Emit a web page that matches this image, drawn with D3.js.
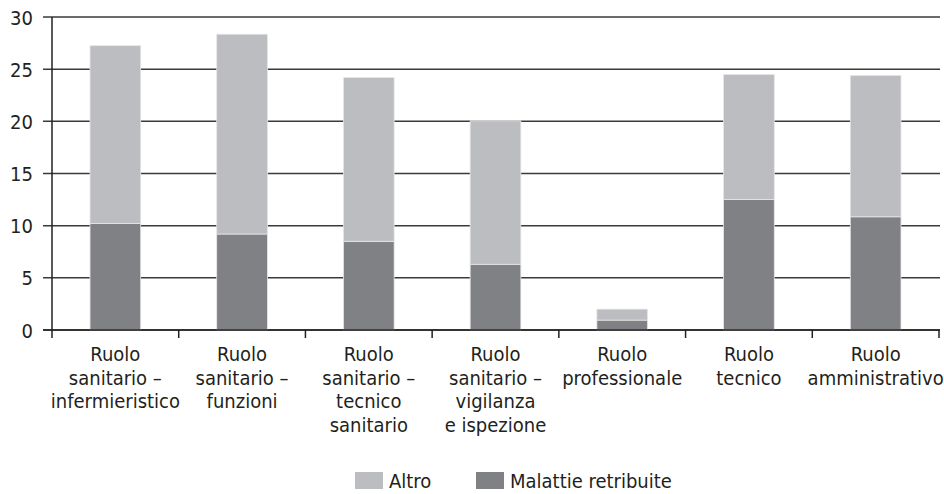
<!DOCTYPE html>
<html>
<head>
<meta charset="utf-8">
<script src="https://cdn.jsdelivr.net/npm/d3@7"></script>
<style>
  body { margin: 0; background: #fff; }
  text { font-family: "Liberation Sans Narrow", "DejaVu Sans Condensed", "Roboto Condensed", sans-serif; fill: #231f20; }
</style>
</head>
<body>
<div id="chart"></div>
<script>
'use strict'

// data
var categories = [
  ["Ruolo", "sanitario –", "infermieristico"],
  ["Ruolo", "sanitario –", "funzioni"],
  ["Ruolo", "sanitario –", "tecnico", "sanitario"],
  ["Ruolo", "sanitario –", "vigilanza", "e ispezione"],
  ["Ruolo", "professionale"],
  ["Ruolo", "tecnico"],
  ["Ruolo", "amministrativo"]
];
var malattie = [10.2, 9.2, 8.5, 6.3, 0.95, 12.5, 10.85];
var altro = [17.05, 19.15, 15.7, 13.75, 1.05, 12.0, 13.55];
var seriesNames = ["Malattie retribuite", "Altro"];
var yTicks = [0, 5, 10, 15, 20, 25, 30];

const margin = { top: 17, right: 5, bottom: 164, left: 52 };
const width = 944 - margin.left - margin.right;
const height = 494 - margin.top - margin.bottom;
const colors = { "Malattie retribuite": "#808184", "Altro": "#bcbdc0" };

var svg = d3.select('#chart').append('svg')
  .attr('width', 944)
  .attr('height', 494);

var g = svg.append('g')
  .attr('transform', 'translate(' + margin.left + ',' + margin.top + ')');

var rows = categories.map(function(c, i) {
  return { key: i, "Malattie retribuite": malattie[i], "Altro": altro[i] };
});
var stacked = d3.stack().keys(seriesNames)(rows);

var xScale = d3.scaleBand()
  .domain(d3.range(categories.length))
  .range([0, 887])
  .paddingInner(0.6)
  .paddingOuter(0.3);
var step = xScale.step();

var yScale = d3.scaleLinear()
  .domain([0, 30])
  .range([height, 0]);

// gridlines
g.append('g')
  .selectAll('line')
  .data(yTicks)
  .enter().append('line')
  .attr('x1', -9)
  .attr('x2', 888)
  .attr('y1', function(d) { return yScale(d); })
  .attr('y2', function(d) { return yScale(d); })
  .style('stroke', '#3a3a3a')
  .style('stroke-width', 1.5);

// y labels
var yAxis = d3.axisLeft(yScale).tickValues(yTicks).tickSize(0).tickPadding(19);
var yG = g.append('g').call(yAxis);
yG.select('.domain').remove();
yG.selectAll('text').style('font-size', '20px').attr('dy', '0.35em').style('fill', '#231f20');

// bars
g.append('g').selectAll('g')
  .data(stacked)
  .enter().append('g')
  .style('fill', function(d) { return colors[d.key]; })
  .selectAll('rect')
  .data(function(d) { return d; })
  .enter().append('rect')
  .attr('x', function(d, i) { return xScale(i); })
  .attr('width', xScale.bandwidth())
  .attr('y', function(d) { return yScale(d[1]); })
  .attr('height', function(d) { return yScale(d[0]) - yScale(d[1]); })
  .style('stroke', '#e6e6e7')
  .style('stroke-width', 0.8);

// y axis line
g.append('line')
  .attr('x1', 0).attr('x2', 0)
  .attr('y1', 0).attr('y2', height)
  .style('stroke', '#231f20')
  .style('stroke-width', 1.5);

// x axis with boundary ticks
g.append('line')
  .attr('x1', -9).attr('x2', 888)
  .attr('y1', height).attr('y2', height)
  .style('stroke', '#231f20')
  .style('stroke-width', 1.5);
g.append('g').selectAll('line')
  .data(d3.range(categories.length + 1))
  .enter().append('line')
  .attr('x1', function(d) { return d * step; })
  .attr('x2', function(d) { return d * step; })
  .attr('y1', height)
  .attr('y2', height + 8)
  .style('stroke', '#231f20')
  .style('stroke-width', 1.5);

// category labels
var labels = g.append('g').selectAll('text')
  .data(categories)
  .enter().append('text')
  .attr('x', function(d, i) { return xScale(i) + xScale.bandwidth() / 2; })
  .attr('y', height + 31)
  .style('text-anchor', 'middle')
  .style('font-size', '20px');
labels.selectAll('tspan')
  .data(function(d) { return d; })
  .enter().append('tspan')
  .attr('x', function() { return d3.select(this.parentNode).attr('x'); })
  .attr('dy', function(d, i) { return i === 0 ? 0 : 23.7; })
  .text(function(d) { return d; });

// legend
var legendItems = [
  { name: "Altro", x: 355 },
  { name: "Malattie retribuite", x: 476 }
];
var legend = svg.append('g').selectAll('g')
  .data(legendItems)
  .enter().append('g')
  .attr('transform', function(d) { return 'translate(' + d.x + ',472)'; });
legend.append('rect')
  .attr('width', 28)
  .attr('height', 17)
  .style('fill', function(d) { return colors[d.name]; });
legend.append('text')
  .attr('x', 34)
  .attr('y', 16)
  .style('font-size', '20px')
  .text(function(d) { return d.name; });
</script>
</body>
</html>
